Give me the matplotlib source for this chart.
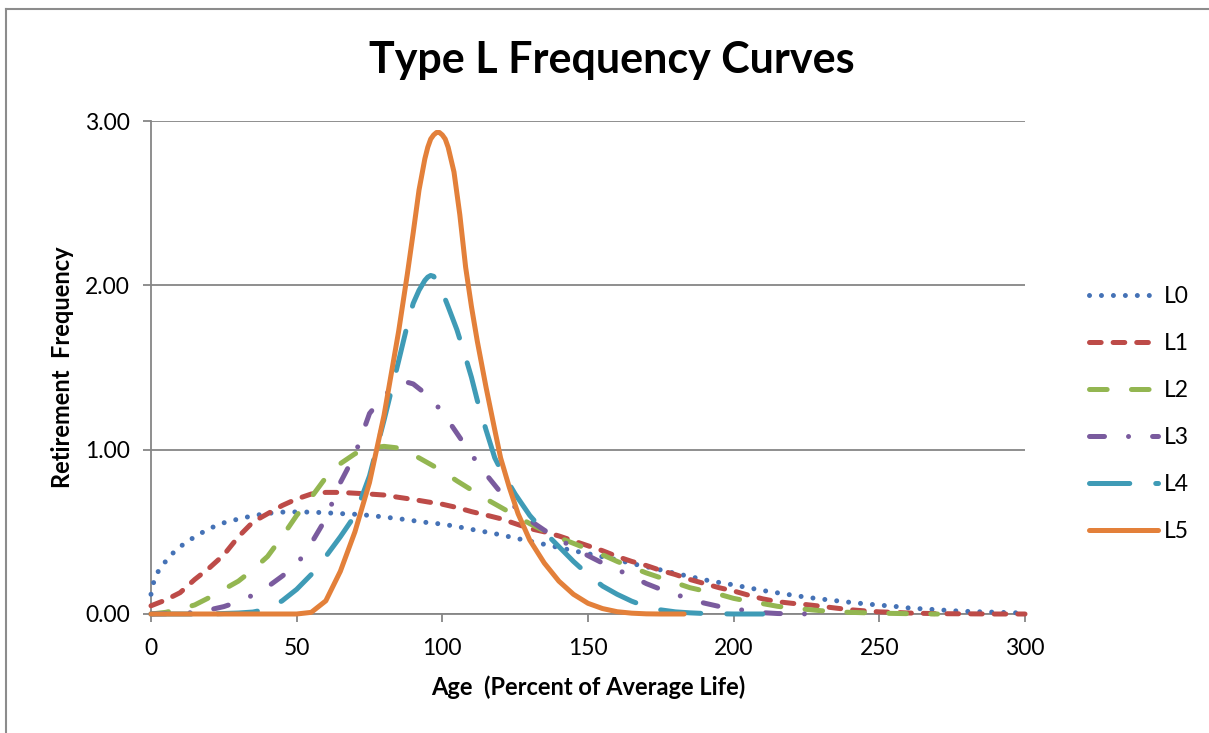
import matplotlib
matplotlib.use("Agg")
import matplotlib.pyplot as plt
from matplotlib.lines import Line2D
from matplotlib.ticker import FormatStrFormatter

plt.rcParams['font.family'] = ['Lato', 'DejaVu Sans']
plt.rcParams['lines.scale_dashes'] = False

# ---------------- data ----------------
series_names = ["L0", "L1", "L2", "L3", "L4", "L5"]

age_L0 = [0, 1, 2.5, 5, 7.5, 10, 15, 20, 25, 30, 35, 40, 45, 50, 55, 60, 65, 70, 75, 80, 85, 90,
          95, 100, 105, 110, 115, 120, 125, 130, 135, 140, 145, 150, 155, 160, 165, 170, 175,
          180, 185, 190, 195, 200, 205, 210, 215, 220, 225, 230, 235, 240, 245, 250, 255, 260,
          265, 270, 275, 280, 285, 290, 295, 300]
val_L0 = [0.12, 0.2, 0.26, 0.32, 0.37, 0.41, 0.47, 0.52, 0.555, 0.578, 0.598, 0.612, 0.62, 0.621,
          0.62, 0.616, 0.611, 0.607, 0.6, 0.59, 0.58, 0.568, 0.556, 0.547, 0.532, 0.515, 0.499,
          0.482, 0.462, 0.443, 0.424, 0.404, 0.385, 0.367, 0.348, 0.33, 0.307, 0.288, 0.268,
          0.247, 0.228, 0.208, 0.192, 0.177, 0.16, 0.143, 0.129, 0.115, 0.102, 0.091, 0.081,
          0.071, 0.062, 0.054, 0.047, 0.037, 0.031, 0.026, 0.02, 0.016, 0.013, 0.011, 0.008, 0.006]

age_L1 = [0, 5, 10, 15, 20, 25, 30, 35, 40, 45, 50, 55, 60, 65, 70, 75, 80, 85, 90, 95, 100,
          105, 110, 115, 120, 125, 130, 135, 140, 145, 150, 155, 160, 165, 170, 175, 180, 185,
          190, 195, 200, 205, 210, 215, 220, 225, 230, 235, 240, 245, 250, 255, 260, 265, 270,
          280, 290, 300]
val_L1 = [0.05, 0.085, 0.13, 0.21, 0.28, 0.36, 0.47, 0.56, 0.61, 0.66, 0.7, 0.73, 0.74, 0.74,
          0.735, 0.73, 0.724, 0.71, 0.697, 0.682, 0.668, 0.648, 0.623, 0.602, 0.58, 0.55, 0.52,
          0.5, 0.475, 0.445, 0.415, 0.385, 0.35, 0.32, 0.295, 0.265, 0.24, 0.21, 0.185, 0.16,
          0.14, 0.115, 0.092, 0.075, 0.065, 0.057, 0.047, 0.036, 0.026, 0.019, 0.013, 0.01,
          0.006, 0.004, 0.002, 0.001, 0.0, 0.0]

age_L2 = [0, 5, 10, 15, 20, 25, 30, 35, 40, 45, 50, 55, 60, 65, 70, 75, 80, 85, 90, 95, 100,
          105, 110, 115, 120, 125, 130, 135, 140, 145, 150, 155, 160, 165, 170, 175, 180, 185,
          190, 195, 200, 205, 210, 215, 220, 225, 230, 235, 240, 250, 260, 270]
val_L2 = [0.0, 0.01, 0.03, 0.055, 0.1, 0.15, 0.2, 0.27, 0.35, 0.47, 0.6, 0.71, 0.83, 0.915,
          0.975, 1.01, 1.02, 1.01, 0.97, 0.92, 0.87, 0.81, 0.755, 0.7, 0.65, 0.6, 0.55, 0.505,
          0.465, 0.43, 0.395, 0.36, 0.32, 0.285, 0.25, 0.22, 0.19, 0.16, 0.14, 0.12, 0.095,
          0.078, 0.063, 0.047, 0.036, 0.028, 0.02, 0.014, 0.01, 0.005, 0.002, 0.0]

age_L3 = [0, 10, 15, 20, 25, 30, 35, 40, 45, 50, 55, 60, 65, 70, 75, 80, 85, 88, 90, 95, 100,
          105, 110, 115, 120, 125, 130, 135, 140, 145, 150, 155, 160, 165, 170, 175, 180, 185,
          190, 195, 200, 205, 210, 215, 220, 230]
val_L3 = [0.0, 0.003, 0.01, 0.025, 0.045, 0.075, 0.115, 0.165, 0.23, 0.3, 0.43, 0.58, 0.8,
          0.97, 1.22, 1.33, 1.4, 1.41, 1.4, 1.33, 1.23, 1.1, 0.97, 0.85, 0.74, 0.65, 0.57, 0.51,
          0.455, 0.405, 0.355, 0.31, 0.27, 0.23, 0.185, 0.15, 0.12, 0.09, 0.066, 0.046, 0.033,
          0.018, 0.008, 0.003, 0.001, 0.0]

age_L4 = [0, 10, 20, 25, 30, 35, 40, 45, 50, 55, 60, 65, 70, 75, 80, 85, 88, 90, 92, 94, 95,
          96, 97, 98, 100, 102, 105, 108, 110, 112, 115, 118, 120, 125, 130, 135, 140, 145, 150,
          155, 160, 165, 170, 175, 180, 185, 190, 200, 210]
val_L4 = [0.0, 0.0, 0.0, 0.003, 0.006, 0.012, 0.03, 0.08, 0.15, 0.24, 0.35, 0.47, 0.6, 0.84,
          1.18, 1.54, 1.76, 1.89, 1.97, 2.03, 2.05, 2.06, 2.055, 2.03, 1.96, 1.87, 1.73, 1.56,
          1.44, 1.3, 1.12, 0.95, 0.88, 0.73, 0.6, 0.5, 0.41, 0.32, 0.24, 0.17, 0.12, 0.078,
          0.045, 0.025, 0.013, 0.007, 0.003, 0.0, 0.0]

age_L5 = [0, 10, 20, 30, 40, 50, 55, 60, 65, 70, 75, 80, 85, 88, 90, 92, 94, 95, 96, 97, 98,
          99, 100, 101, 102, 104, 106, 108, 110, 112, 115, 118, 120, 123, 126, 130, 135, 140,
          145, 150, 155, 160, 165, 170, 175, 183]
val_L5 = [0, 0, 0, 0, 0, 0, 0.01, 0.08, 0.26, 0.5, 0.8, 1.21, 1.72, 2.07, 2.32, 2.58, 2.77,
          2.84, 2.89, 2.915, 2.93, 2.93, 2.915, 2.89, 2.84, 2.69, 2.43, 2.11, 1.87, 1.66, 1.38,
          1.12, 0.95, 0.77, 0.61, 0.45, 0.31, 0.2, 0.12, 0.065, 0.033, 0.014, 0.005, 0.001, 0, 0]

x_ticks = [0, 50, 100, 150, 200, 250, 300]
y_ticks = [0, 1, 2, 3]

title = "Type L Frequency Curves"
x_label = "Age  (Percent of Average Life)"
y_label = "Retirement  Frequency"

# ---------------- styling ----------------
colors = ["#4572B6", "#BD4B48", "#93B651", "#7A5B9E", "#3F9BB6", "#E3803A"]
dashes = [
    (0, (0.01, 8.6)),
    (0, (8.4, 8.6)),
    (0, (12.7, 17.5)),
    (0, (10.8, 17.3, 0.01, 17.3)),
    (0, (29.0, 18.7)),
    "-",
]
lw = 3.6

fig = plt.figure(figsize=(12.09, 7.33), dpi=100)
ax = fig.add_axes([151 / 1209, 1 - 614 / 733, (1025 - 151) / 1209, (614 - 121) / 733])

ages = [age_L0, age_L1, age_L2, age_L3, age_L4, age_L5]
vals = [val_L0, val_L1, val_L2, val_L3, val_L4, val_L5]

handles = []
for name, a, v, c, d in zip(series_names, ages, vals, colors, dashes):
    ln, = ax.plot(a, v, color=c, lw=lw, linestyle=d, dash_capstyle='round',
                  solid_capstyle='round', solid_joinstyle='round', label=name,
                  clip_on=False, zorder=3)
    handles.append(ln)

ax.set_xlim(0, 300)
ax.set_ylim(0, 3)
ax.set_xticks(x_ticks)
ax.set_yticks(y_ticks)
ax.yaxis.set_major_formatter(FormatStrFormatter('%.2f'))

grid_col = "#868686"
ax.grid(axis='y', color=grid_col, lw=1.3, zorder=0)
ax.set_axisbelow(True)
for s in ['top', 'right']:
    ax.spines[s].set_visible(False)
for s in ['left', 'bottom']:
    ax.spines[s].set_color(grid_col)
    ax.spines[s].set_linewidth(1.3)
ax.tick_params(axis='both', direction='out', length=6, width=1.3, color=grid_col,
               labelsize=16.5, labelcolor='black')
ax.tick_params(axis='x', pad=11)
ax.tick_params(axis='y', pad=9)

fig.text(612 / 1209, 1 - 60 / 733, title, fontsize=31, fontweight='bold',
         ha='center', va='center')
ax.set_xlabel(x_label, fontsize=17, fontweight='bold', labelpad=12)
ax.set_ylabel(y_label, fontsize=17, fontweight='bold', labelpad=8)

leg = fig.legend(handles=handles, loc='upper left', bbox_to_anchor=(1080 / 1209, 1 - 277 / 733),
                 frameon=False, fontsize=16.5, handlelength=3.0, handletextpad=0.25,
                 labelspacing=1.13, borderaxespad=0)

# outer chart frame (left and top edges visible)
fig.add_artist(Line2D([6 / 1209, 6 / 1209], [0, 1 - 9 / 733], transform=fig.transFigure,
                      color="#8C8C8C", lw=1.5))
fig.add_artist(Line2D([6 / 1209, 1], [1 - 9 / 733, 1 - 9 / 733], transform=fig.transFigure,
                      color="#8C8C8C", lw=1.5))

fig.savefig("out.png", dpi=100)
